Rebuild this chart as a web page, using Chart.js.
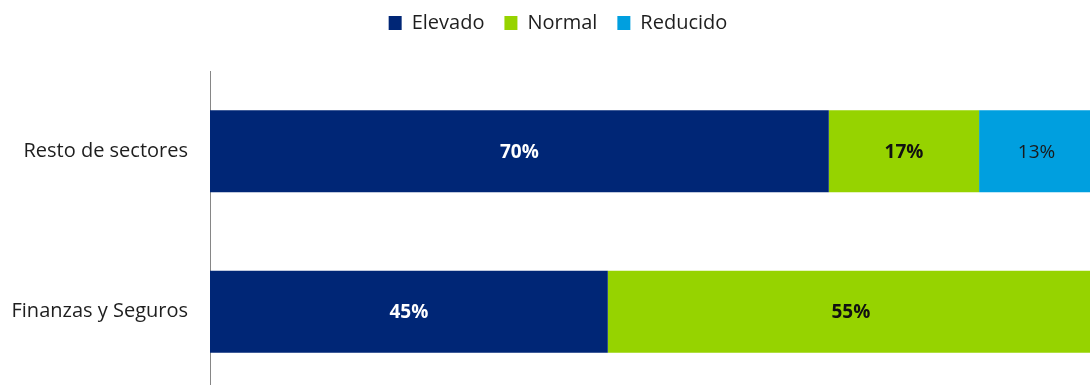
<!DOCTYPE html>
<html>
<head>
<meta charset="utf-8">
<script src="https://cdn.jsdelivr.net/npm/chart.js@4/dist/chart.umd.min.js"></script>
<style>
  html, body { margin: 0; padding: 0; background: #fff; overflow: hidden; }
  canvas { display: block; }
</style>
</head>
<body>
<canvas id="barChart" width="1094" height="392"></canvas>
<script>
var categories = ['Resto de sectores', 'Finanzas y Seguros'];
var elevado = [70, 45];
var normal = [17, 55];
var reducido = [13, 0];

// colours and label style per series
var seriesColors = ['#002676', '#96d300', '#009fdf'];
var labelColors = ['#ffffff', '#111111', '#1a1a1a'];
var labelWeights = ['bold', 'bold', 'normal'];

var FONT = "'Open Sans', 'Noto Sans', sans-serif";

// draws the % value in the middle of each segment
var valueLabels = {
    id: 'valueLabels',
    afterDatasetsDraw: function (chart) {
        var ctx = chart.ctx;
        chart.data.datasets.forEach(function (ds, i) {
            var meta = chart.getDatasetMeta(i);
            meta.data.forEach(function (bar, j) {
                var v = ds.data[j];
                if (!v) return;
                ctx.save();
                ctx.font = labelWeights[i] + ' 19px ' + FONT;
                ctx.fillStyle = labelColors[i];
                ctx.textAlign = 'center';
                ctx.textBaseline = 'middle';
                ctx.fillText(v + '%', (bar.base + bar.x) / 2, bar.y + 1);
                ctx.restore();
            });
        });
    }
};

// more room under the legend, and legend nudged a bit to the right
var legendSpace = {
    id: 'legendSpace',
    beforeLayout: function (chart) {
        var lg = chart.legend;
        if (lg && !lg._patched) {
            var fit = lg.fit;
            lg.fit = function () {
                fit.call(this);
                this.height += 28;
            };
            var draw = lg.draw;
            lg.draw = function () {
                this.left += 11; this.right += 11;
                draw.call(this);
                this.left -= 11; this.right -= 11;
            };
            lg._patched = true;
        }
    }
};

var ctx = document.getElementById('barChart').getContext('2d');
var myBarChart = new Chart(ctx, {
    type: 'bar',
    data: {
        labels: categories,
        datasets: [
            { label: 'Elevado', data: elevado, backgroundColor: seriesColors[0] },
            { label: 'Normal', data: normal, backgroundColor: seriesColors[1] },
            { label: 'Reducido', data: reducido, backgroundColor: seriesColors[2] }
        ]
    },
    options: {
        indexAxis: 'y',
        responsive: false,
        animation: false,
        layout: { padding: { top: -7, left: 0, right: 0, bottom: 0 } },
        datasets: {
            bar: { barPercentage: 1, categoryPercentage: 0.51, borderWidth: 0 }
        },
        scales: {
            x: {
                stacked: true,
                display: false,
                min: 0,
                max: 100
            },
            y: {
                stacked: true,
                grid: { display: false, drawTicks: false },
                border: { color: '#868686', width: 1 },
                ticks: {
                    color: '#1e1e1e',
                    padding: 22,
                    font: { family: FONT, size: 20 }
                },
                afterFit: function (scale) {
                    scale.width = 210;
                    scale.paddingTop = 0;
                    scale.paddingBottom = 0;
                }
            }
        },
        plugins: {
            tooltip: { enabled: false },
            legend: {
                position: 'top',
                labels: {
                    boxWidth: 13,
                    boxHeight: 14,
                    padding: 20,
                    color: '#1e1e1e',
                    font: { family: FONT, size: 20 }
                }
            }
        }
    },
    plugins: [valueLabels, legendSpace]
});
</script>
</body>
</html>
